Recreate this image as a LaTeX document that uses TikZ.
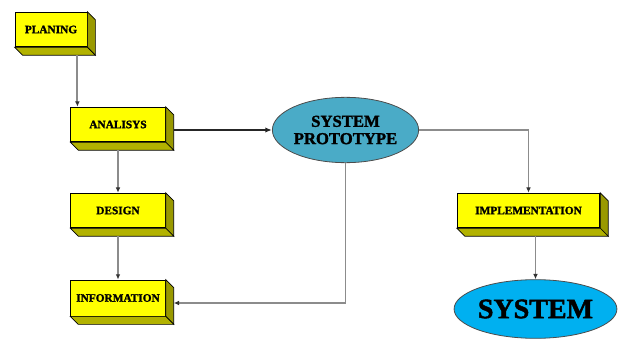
\documentclass[tikz,border=0pt]{standalone}
\usepackage{fontspec}
\setmainfont{Liberation Serif}[BoldFeatures={FakeBold=1.6}]
\usetikzlibrary{arrows.meta,positioning,calc,shapes.geometric}

\definecolor{boxyellow}{rgb}{1, 1, 0}
\definecolor{boxside}{rgb}{0.6, 0.6, 0}
\definecolor{boxbottom}{rgb}{0.7, 0.7, 0}
\definecolor{protoblue}{rgb}{0.29, 0.67, 0.78}
\definecolor{sysblue}{rgb}{0, 0.69, 0.94}
\definecolor{linegray}{rgb}{0.55, 0.55, 0.55}

\tikzset{
	stagebox/.style={draw=black, line width=0.6, fill=boxyellow, minimum height=26pt, inner sep=0pt, font=\fontsize{8.5}{9}\selectfont\bfseries},
	flow/.style={draw=linegray, line width=1.4, -{Latex[length=4pt,width=3.5pt,color=black!80]}},
	mainflow/.style={draw=black!85, line width=1.5, -{Latex[length=5pt,width=4pt]}}
}

% extruded faces of a box, down and to the right
\newcommand{\extrude}[1]{%
	\fill[boxside, draw=black, line width=0.5] (#1.north east) -- ++(8,8) -- ($(#1.south east)+(8,8)$) -- (#1.south east) -- cycle;
	\fill[boxbottom, draw=black, line width=0.5] (#1.south west) -- (#1.south east) -- ($(#1.south east)+(8,8)$) -- ($(#1.south west)+(8,8)$) -- cycle;
}

\begin{document}
\begin{tikzpicture}[x=0.75pt,y=0.75pt,yscale=-1,xscale=1]
	\useasboundingbox (0,0) rectangle (622,343);
	
	%Shape: Boxes
	\node [stagebox, minimum width=54pt] (planing) at (51,29.5) {PLANING};
	\extrude{planing}
	\node [stagebox, minimum width=71pt] (analisys) at (118,124.5) {ANALISYS};
	\extrude{analisys}
	\node [stagebox, minimum width=71pt] (design) at (118,210.5) {DESIGN};
	\extrude{design}
	\node [stagebox, minimum width=71pt, minimum height=27pt] (information) at (118,298) {INFORMATION};
	\extrude{information}
	\node [stagebox, minimum width=107pt] (implementation) at (528.5,210.5) {IMPLEMENTATION};
	\extrude{implementation}
	
	%Shape: Ellipses
	\node [ellipse, draw=black!70, line width=0.6, fill=protoblue, minimum width=106pt, minimum height=49pt, inner sep=0pt, align=center, font=\fontsize{12.5}{13}\selectfont\bfseries] (prototype) at (345.5,130) {SYSTEM\\PROTOTYPE};
	\node [ellipse, draw=black!70, line width=0.6, fill=sysblue, minimum width=116pt, minimum height=44pt, inner sep=0pt, font=\fontsize{21}{24}\selectfont\bfseries] (system) at (535.5,309) {SYSTEM};
	
	%Straight Lines
	\coordinate (p1) at ($(planing.south east)+(-10,8)$);
	\draw [flow] (p1) -- (p1 |- analisys.north);
	\draw [flow] ($(analisys.south)+(0,8)$) -- (design.north);
	\draw [flow] ($(design.south)+(0,8)$) -- (information.north);
	\coordinate (a1) at ($(analisys.east)+(8,5.5)$);
	\draw [mainflow] (a1) -- (a1 -| prototype.west);
	\draw [flow] (prototype.south) |- ($(information.east)+(8,5)$);
	\draw [flow] (prototype.east) -| (implementation.north);
	\coordinate (i1) at ($(implementation.south)+(7,8)$);
	\draw [flow] (i1) -- (i1 |- system.north);
	
\end{tikzpicture}
\end{document}
